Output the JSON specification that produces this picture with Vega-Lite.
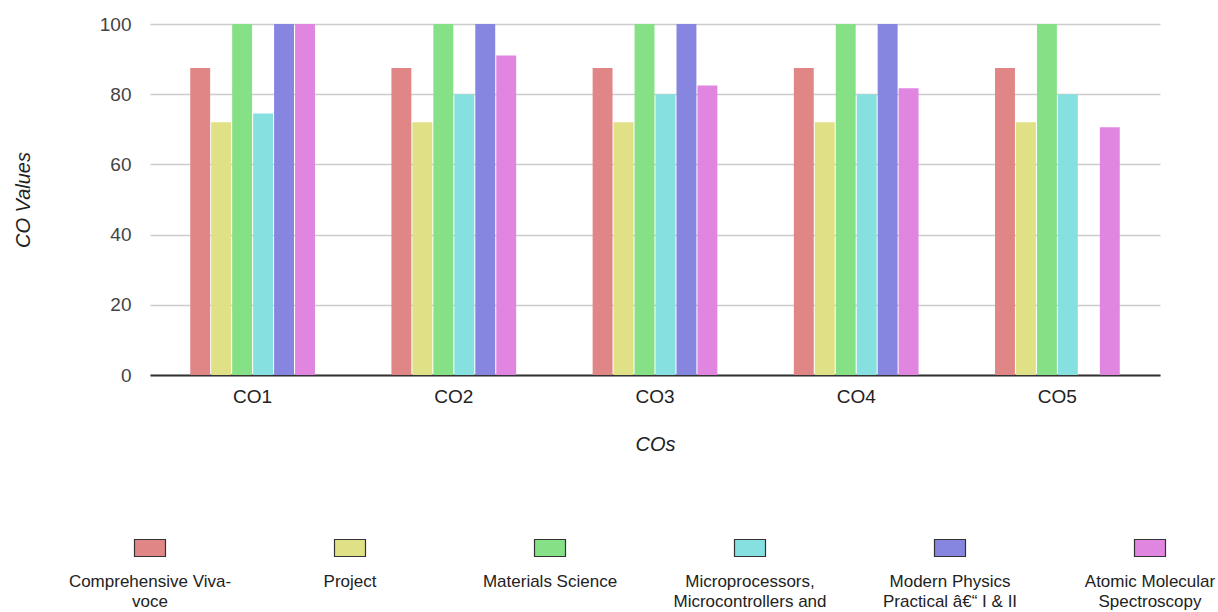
{
  "$schema": "https://vega.github.io/schema/vega-lite/v6.json",
  "background": "white",
  "padding": {"left": 13, "top": 15, "right": 0, "bottom": 0},
  "config": {"view": {"stroke": null}, "font": "Liberation Sans"},
  "spacing": 83,
  "datasets": {
    "scores": [
      {"co": "CO1", "course": "Comprehensive Viva-voce", "value": 87.5},
      {"co": "CO2", "course": "Comprehensive Viva-voce", "value": 87.5},
      {"co": "CO3", "course": "Comprehensive Viva-voce", "value": 87.5},
      {"co": "CO4", "course": "Comprehensive Viva-voce", "value": 87.5},
      {"co": "CO5", "course": "Comprehensive Viva-voce", "value": 87.5},
      {"co": "CO1", "course": "Project", "value": 72},
      {"co": "CO2", "course": "Project", "value": 72},
      {"co": "CO3", "course": "Project", "value": 72},
      {"co": "CO4", "course": "Project", "value": 72},
      {"co": "CO5", "course": "Project", "value": 72},
      {"co": "CO1", "course": "Materials Science", "value": 100},
      {"co": "CO2", "course": "Materials Science", "value": 100},
      {"co": "CO3", "course": "Materials Science", "value": 100},
      {"co": "CO4", "course": "Materials Science", "value": 100},
      {"co": "CO5", "course": "Materials Science", "value": 100},
      {"co": "CO1", "course": "Microprocessors, Microcontrollers and", "value": 74.5},
      {"co": "CO2", "course": "Microprocessors, Microcontrollers and", "value": 80},
      {"co": "CO3", "course": "Microprocessors, Microcontrollers and", "value": 80},
      {"co": "CO4", "course": "Microprocessors, Microcontrollers and", "value": 80},
      {"co": "CO5", "course": "Microprocessors, Microcontrollers and", "value": 80},
      {"co": "CO1", "course": "Modern Physics Practical â€“ I & II", "value": 100},
      {"co": "CO2", "course": "Modern Physics Practical â€“ I & II", "value": 100},
      {"co": "CO3", "course": "Modern Physics Practical â€“ I & II", "value": 100},
      {"co": "CO4", "course": "Modern Physics Practical â€“ I & II", "value": 100},
      {"co": "CO5", "course": "Modern Physics Practical â€“ I & II", "value": null},
      {"co": "CO1", "course": "Atomic Molecular Spectroscopy", "value": 100},
      {"co": "CO2", "course": "Atomic Molecular Spectroscopy", "value": 91},
      {"co": "CO3", "course": "Atomic Molecular Spectroscopy", "value": 82.5},
      {"co": "CO4", "course": "Atomic Molecular Spectroscopy", "value": 81.7},
      {"co": "CO5", "course": "Atomic Molecular Spectroscopy", "value": 70.6}
    ],
    "legend": [
      {"course": "Comprehensive Viva-voce", "label": "Comprehensive Viva-\nvoce"},
      {"course": "Project", "label": "Project"},
      {"course": "Materials Science", "label": "Materials Science"},
      {"course": "Microprocessors, Microcontrollers and", "label": "Microprocessors,\nMicrocontrollers and"},
      {"course": "Modern Physics Practical â€“ I & II", "label": "Modern Physics\nPractical â€“ I & II"},
      {"course": "Atomic Molecular Spectroscopy", "label": "Atomic Molecular\nSpectroscopy"}
    ]
  },
  "vconcat": [
    {
      "width": 1010,
      "height": 351,
      "data": {"name": "scores"},
      "mark": {"type": "bar"},
      "encoding": {
        "x": {
          "field": "co", "type": "nominal",
          "scale": {"paddingInner": 0.38, "paddingOuter": 0.2},
          "axis": {
            "title": "COs", "titleFontStyle": "italic", "titleFontSize": 20, "titleFontWeight": "normal",
            "titleColor": "#222", "titlePadding": 28,
            "labelAngle": 0, "labelFontSize": 19, "labelColor": "#222", "labelPadding": 12,
            "ticks": false, "domainColor": "#333", "domainWidth": 2
          }
        },
        "xOffset": {
          "field": "course", "type": "nominal",
          "scale": {
            "domain": ["Comprehensive Viva-voce", "Project", "Materials Science", "Microprocessors, Microcontrollers and", "Modern Physics Practical â€“ I & II", "Atomic Molecular Spectroscopy"],
            "paddingInner": 0.05
          }
        },
        "y": {
          "field": "value", "type": "quantitative",
          "scale": {"domain": [0, 100]},
          "axis": {
            "title": "CO Values", "titleFontStyle": "italic", "titleFontSize": 20, "titleFontWeight": "normal",
            "titleColor": "#222", "titlePadding": 66,
            "values": [0, 20, 40, 60, 80, 100],
            "labelFontSize": 19, "labelColor": "#444", "labelPadding": 19,
            "ticks": false, "domain": false, "gridColor": "#ccc", "gridWidth": 1.5
          }
        },
        "color": {
          "field": "course", "type": "nominal",
          "scale": {
            "domain": ["Comprehensive Viva-voce", "Project", "Materials Science", "Microprocessors, Microcontrollers and", "Modern Physics Practical â€“ I & II", "Atomic Molecular Spectroscopy"],
            "range": ["#e08686", "#e0e086", "#86e086", "#86e0e0", "#8686e0", "#e086e0"]
          },
          "legend": null
        }
      }
    },
    {
      "width": 1010,
      "height": 20,
      "data": {"name": "legend"},
      "encoding": {
        "x": {
          "field": "course", "type": "nominal",
          "sort": null,
          "scale": {"type": "point", "range": [0, 1000], "padding": 0},
          "axis": null
        }
      },
      "layer": [
        {
          "mark": {"type": "point", "shape": "M-1,-0.548H1V0.548H-1Z", "size": 961, "filled": true, "opacity": 1, "stroke": "#333", "strokeWidth": 1.2},
          "encoding": {
            "color": {
              "field": "course", "type": "nominal",
              "scale": {
                "domain": ["Comprehensive Viva-voce", "Project", "Materials Science", "Microprocessors, Microcontrollers and", "Modern Physics Practical â€“ I & II", "Atomic Molecular Spectroscopy"],
                "range": ["#e08686", "#e0e086", "#86e086", "#86e0e0", "#8686e0", "#e086e0"]
              },
              "legend": null
            }
          }
        },
        {
          "mark": {"type": "text", "lineBreak": "\n", "baseline": "alphabetic", "dy": 39, "fontSize": 17, "lineHeight": 20, "color": "#222"},
          "encoding": {"text": {"field": "label"}}
        }
      ]
    }
  ]
}
